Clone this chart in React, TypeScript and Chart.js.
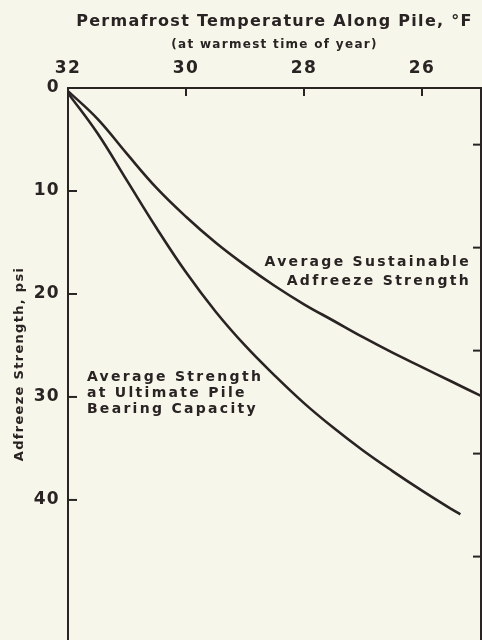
import React, { useEffect, useRef } from "react";
import { Chart, registerables } from "chart.js";

Chart.register(...registerables);

// ---- data ----
const upperTemps = [32, 31.5, 31, 30.5, 30, 29.5, 29, 28.5, 28, 27.5, 27, 26.5, 26, 25.5, 25];
const upperStrength = [0.3, 3.0, 6.4, 9.7, 12.5, 15.0, 17.2, 19.2, 21.0, 22.6, 24.2, 25.7, 27.1, 28.5, 29.9];
const lowerTemps = [32, 31.5, 31, 30.5, 30, 29.5, 29, 28.5, 28, 27.5, 27, 26.5, 26, 25.5, 25.35];
const lowerStrength = [0.5, 4.4, 9.0, 13.6, 17.9, 21.7, 25.0, 27.9, 30.6, 33.0, 35.2, 37.2, 39.1, 40.9, 41.4];

const xTicks = [32, 30, 28, 26];
const yTicks = [0, 10, 20, 30, 40];
const rightTicks = [5.5, 15.5, 25.5, 35.5, 45.5];
const xMin = 25;
const xMax = 32;
const yMin = 0;
const yMax = 53.6;

const titleText = "Permafrost Temperature Along Pile, °F";
const subtitleText = "(at warmest time of year)";
const yTitleText = "Adfreeze Strength, psi";
const upperLabel = ["Average Sustainable", "Adfreeze Strength"];
const lowerLabel = ["Average Strength", "at Ultimate Pile", "Bearing Capacity"];
const upperLabelAnchor = [25.17, 16.9]; // right end of first line (temp, psi)
const lowerLabelAnchor = [31.68, 28.1]; // left start of first line (temp, psi)

const INK = "#2a2323";
const PAPER = "#f6f6ea";
const FONT = "'DejaVu Sans', sans-serif";

const inkPlugin = {
  id: "ink",
  beforeUpdate(chart: any) {
    chart.ctx.letterSpacing = "1.3px";
  },
  beforeDraw(chart: any) {
    chart.ctx.letterSpacing = "1.3px";
  },
  afterDatasetsDraw(chart: any) {
    const { ctx, chartArea, scales } = chart;
    const xs = scales.x;
    const ys = scales.y;
    ctx.save();
    ctx.strokeStyle = INK;
    ctx.lineWidth = 2;
    xTicks.forEach((v) => {
      const px = xs.getPixelForValue(v);
      ctx.beginPath();
      ctx.moveTo(px, chartArea.top);
      ctx.lineTo(px, chartArea.top + 8);
      ctx.stroke();
    });
    yTicks.forEach((v) => {
      const py = ys.getPixelForValue(v);
      ctx.beginPath();
      ctx.moveTo(chartArea.left, py);
      ctx.lineTo(chartArea.left + 9, py);
      ctx.stroke();
    });
    rightTicks.forEach((v) => {
      const py = ys.getPixelForValue(v);
      ctx.beginPath();
      ctx.moveTo(chartArea.right, py);
      ctx.lineTo(chartArea.right - 8, py);
      ctx.stroke();
    });

    ctx.fillStyle = INK;
    ctx.font = `bold 14px ${FONT}`;
    ctx.letterSpacing = "2.3px";
    ctx.textBaseline = "middle";
    ctx.textAlign = "right";
    const ux = xs.getPixelForValue(upperLabelAnchor[0]);
    const uy = ys.getPixelForValue(upperLabelAnchor[1]);
    upperLabel.forEach((t, i) => ctx.fillText(t, ux, uy + i * 19));
    ctx.textAlign = "left";
    const lx = xs.getPixelForValue(lowerLabelAnchor[0]);
    const ly = ys.getPixelForValue(lowerLabelAnchor[1]);
    lowerLabel.forEach((t, i) => ctx.fillText(t, lx, ly + i * 16));
    ctx.restore();
  },
};

export default function App() {
  const ref = useRef<HTMLCanvasElement | null>(null);

  useEffect(() => {
    if (!ref.current) return;
    Chart.defaults.font.family = FONT;
    Chart.defaults.color = INK;
    const chart = new Chart(ref.current, {
      type: "line",
      data: {
        datasets: [
          {
            label: upperLabel.join(" "),
            data: upperTemps.map((t, i) => ({ x: t, y: upperStrength[i] })),
            borderColor: INK,
            borderWidth: 2.6,
            pointRadius: 0,
            tension: 0.4,
            fill: false,
          },
          {
            label: lowerLabel.join(" "),
            data: lowerTemps.map((t, i) => ({ x: t, y: lowerStrength[i] })),
            borderColor: INK,
            borderWidth: 2.6,
            pointRadius: 0,
            tension: 0.4,
            fill: false,
          },
        ],
      },
      options: {
        responsive: false,
        animation: false,
        layout: { padding: 0 },
        plugins: {
          legend: { display: false },
          tooltip: { enabled: false },
          title: {
            display: true,
            text: titleText,
            fullSize: false,
            color: INK,
            font: { size: 16, weight: "bold", family: FONT },
            padding: { top: 12, bottom: 2 },
          },
          subtitle: {
            display: true,
            text: subtitleText,
            fullSize: false,
            color: INK,
            font: { size: 12, weight: "bold", family: FONT },
            padding: { top: 4, bottom: 0 },
          },
        },
        scales: {
          x: {
            type: "linear",
            position: "top",
            reverse: true,
            min: xMin,
            max: xMax,
            afterBuildTicks: (s: any) => {
              s.ticks = xTicks.map((v) => ({ value: v }));
            },
            afterFit: (s: any) => {
              s.height = 36.4;
              s.paddingLeft = 0;
              s.paddingRight = 0;
            },
            grid: { display: false },
            border: { display: true, color: INK, width: 2 },
            ticks: {
              color: INK,
              font: { size: 17, weight: "bold", family: FONT },
              padding: 1,
              maxRotation: 0,
            },
          },
          y: {
            type: "linear",
            position: "left",
            reverse: true,
            min: yMin,
            max: yMax,
            afterBuildTicks: (s: any) => {
              s.ticks = yTicks.map((v) => ({ value: v }));
            },
            afterFit: (s: any) => {
              s.width = 68;
              s.paddingTop = 0;
              s.paddingBottom = 0;
            },
            grid: { display: false },
            border: { display: true, color: INK, width: 2 },
            ticks: {
              color: INK,
              font: { size: 17, weight: "bold", family: FONT },
              padding: 0,
            },
            title: {
              display: true,
              text: yTitleText,
              color: INK,
              font: { size: 13, weight: "bold", family: FONT },
              padding: { top: 12, bottom: 0 },
            },
          },
          y2: {
            type: "linear",
            position: "right",
            reverse: true,
            min: yMin,
            max: yMax,
            afterFit: (s: any) => {
              s.width = 1;
              s.paddingTop = 0;
              s.paddingBottom = 0;
            },
            grid: { display: false },
            border: { display: true, color: INK, width: 2 },
            ticks: { display: false },
          },
        },
      },
      plugins: [inkPlugin],
    } as any);
    return () => chart.destroy();
  }, []);

  return (
    <div
      style={{
        position: "fixed",
        left: 0,
        top: 0,
        width: 482,
        height: 640,
        background: PAPER,
        overflow: "hidden",
      }}
    >
      <canvas ref={ref} width={482} height={640} style={{ display: "block" }} />
    </div>
  );
}
